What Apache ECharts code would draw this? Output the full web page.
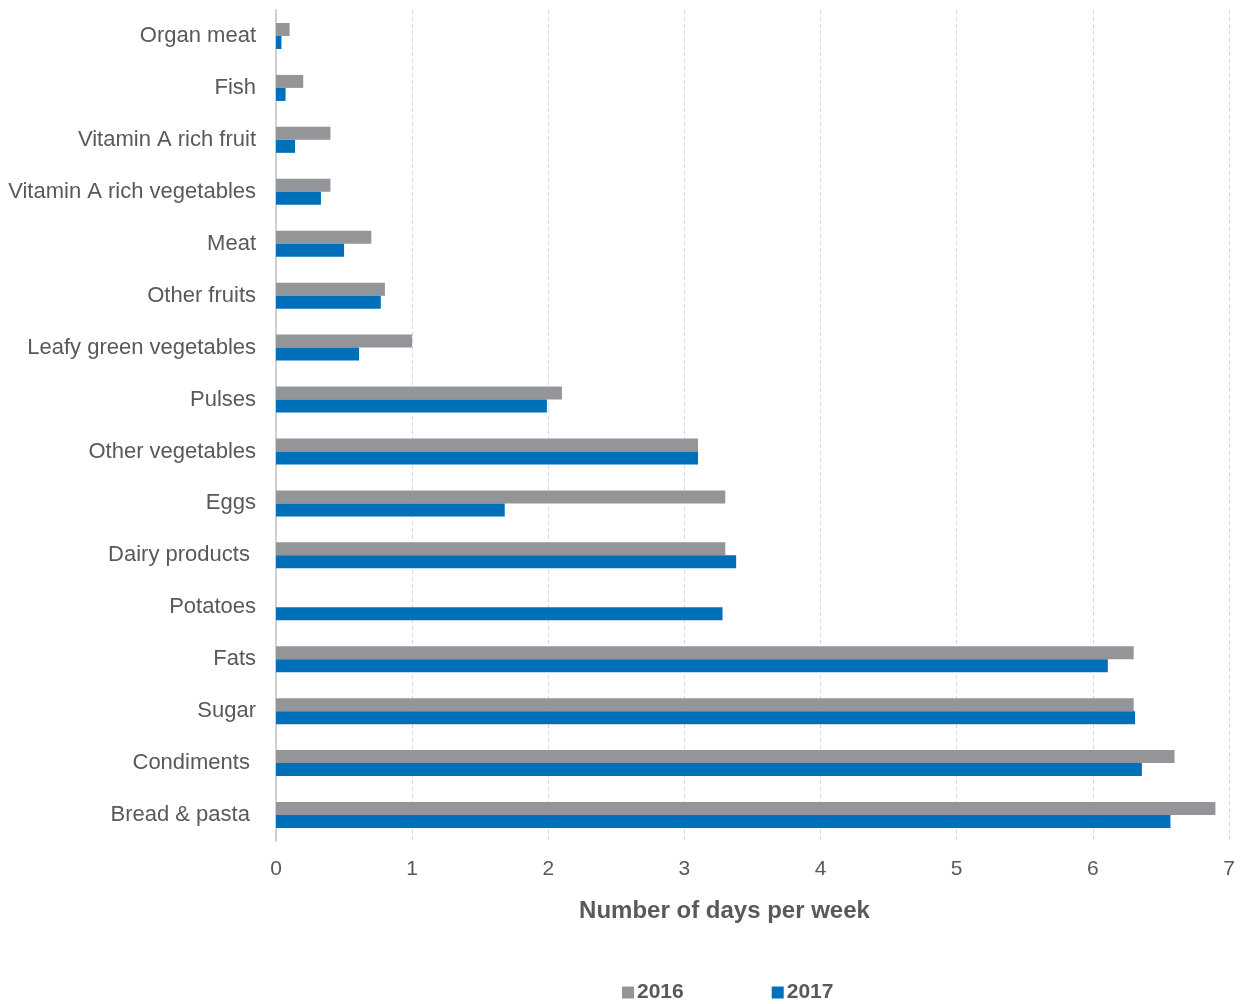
<!DOCTYPE html>
<html>
<head>
<meta charset="utf-8">
<script src="https://cdn.jsdelivr.net/npm/echarts@6/dist/echarts.min.js"></script>
<style>
html,body{margin:0;padding:0;background:#fff;}
#chart{width:1243px;height:1004px;}
</style>
</head>
<body>
<div id="chart"></div>
<script>
const categories = ["Organ meat","Fish","Vitamin A rich fruit","Vitamin A rich vegetables","Meat","Other fruits","Leafy green vegetables","Pulses","Other vegetables","Eggs","Dairy products ","Potatoes","Fats","Sugar","Condiments ","Bread & pasta "];
const values2016 = [0.1,0.2,0.4,0.4,0.7,0.8,1.0,2.1,3.1,3.3,3.3,0,6.3,6.3,6.6,6.9];
const values2017 = [0.04,0.07,0.14,0.33,0.5,0.77,0.61,1.99,3.1,1.68,3.38,3.28,6.11,6.31,6.36,6.57];
const xTicks = [0,1,2,3,4,5,6,7];

const font = "'Liberation Sans', Arial, Helvetica, sans-serif";
const chart = echarts.init(document.getElementById('chart'));
chart.setOption({
  animation: false,
  textStyle: {fontFamily: font},
  grid: {left: 276, right: 14, top: 10, bottom: 163, containLabel: false},
  legend: {
    top: 977, left: 617, itemWidth: 12, itemHeight: 12, itemGap: 88,
    icon: 'rect',
    textStyle: {fontFamily: font, fontSize: 21, fontWeight: 'bold', color: '#595959', padding: [0,0,0,-2]},
    data: ['2016','2017']
  },
  xAxis: {
    type: 'value', min: 0, max: 7, interval: 1,
    name: 'Number of days per week', nameLocation: 'middle', nameGap: 58,
    nameTextStyle: {fontFamily: font, fontSize: 24, fontWeight: 'bold', color: '#595959', padding: [0,56,0,0]},
    axisLine: {show: false}, axisTick: {show: false},
    axisLabel: {fontFamily: font, fontSize: 21, color: '#595959', margin: 18,
      formatter: v => xTicks.includes(v) ? String(v) : ''},
    splitLine: {show: true, lineStyle: {color: '#d9d9d9', type: [4,3], width: 1}}
  },
  yAxis: {
    type: 'category', data: categories, inverse: true,
    axisLine: {show: true, lineStyle: {color: '#d0d0d0', width: 2}},
    axisTick: {show: false},
    axisLabel: {fontFamily: font, fontSize: 22, color: '#595959', margin: 20, padding: [4,0,0,0]}
  },
  series: [
    {name: '2016', type: 'bar', data: values2016, barWidth: 13, barGap: '0%',
     itemStyle: {color: '#939598'}},
    {name: '2017', type: 'bar', data: values2017, barWidth: 13, barGap: '0%',
     itemStyle: {color: '#0070ba'}}
  ]
});
</script>
</body>
</html>
